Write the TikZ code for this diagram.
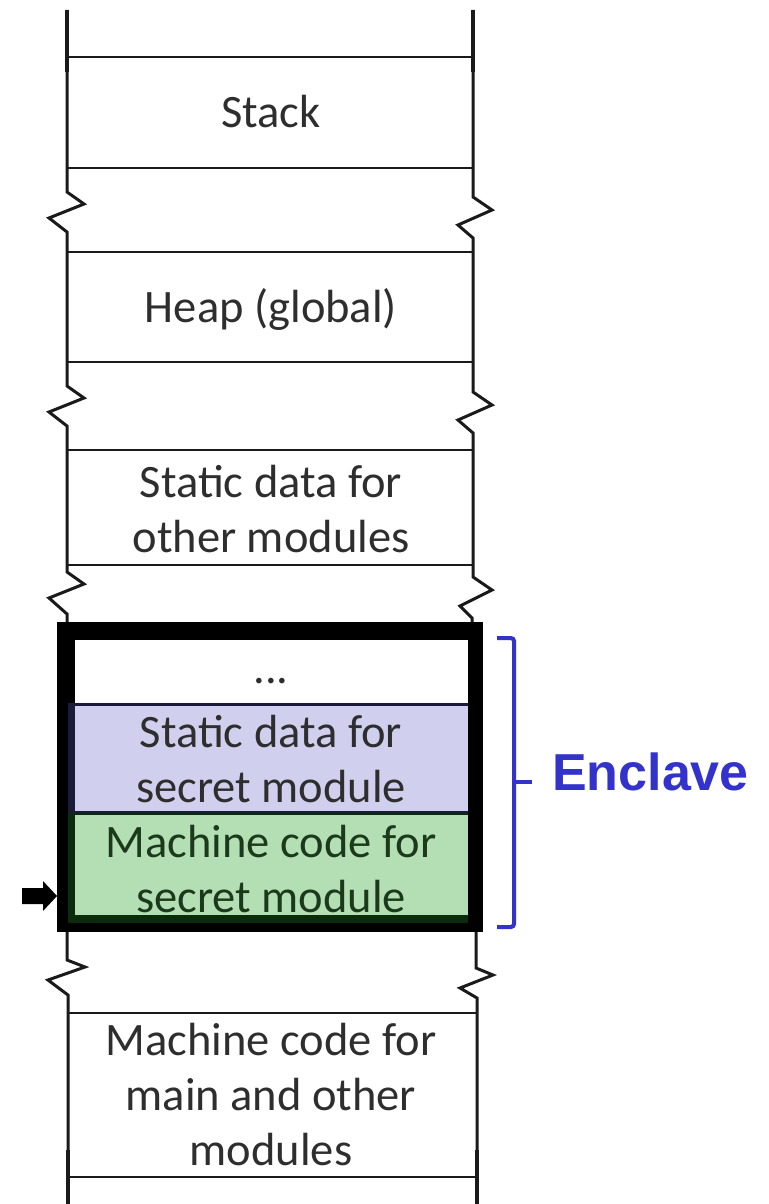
\documentclass[tikz,border=0pt]{standalone}
\usepackage{fontspec}
\newfontfamily\memfont{Carlito}
\newfontfamily\labelfont{Liberation Sans}
\definecolor{railgray}{HTML}{1A1A1A}
\definecolor{textgray}{HTML}{2E2E2E}
\definecolor{lavender}{HTML}{D0D0EE}
\definecolor{navyedge}{HTML}{1A1A3A}
\definecolor{mint}{HTML}{B4DEB4}
\definecolor{greenedge}{HTML}{0C2A0C}
\definecolor{greentext}{HTML}{1B3A1B}
\definecolor{enclaveblue}{HTML}{3333CC}
\begin{document}
\begin{tikzpicture}[x=1pt,y=-1pt,
  rail/.style={line width=3pt, draw=railgray, line join=miter},
  railend/.style={line width=4.5pt, draw=railgray},
  sep/.style={line width=2pt, draw=railgray},
  memtext/.style={font=\memfont\fontsize{46.5}{55}\selectfont, text=textgray,
                  align=center, inner sep=0pt, anchor=base},
  bracket/.style={line width=4pt, draw=enclaveblue, rounded corners=3pt}]
\useasboundingbox (0,0) rectangle (768,1204);

% side rails with break marks
\draw[rail] (67,10) -- (67,192) -- (84,204) -- (49,218) -- (67,232)
  -- (67,386) -- (84,398) -- (49,412) -- (67,426)
  -- (67,572) -- (84,584) -- (49,598) -- (67,614) -- (67,622);
\draw[rail] (67,932) -- (67,960) -- (85,967) -- (48,980) -- (68,995) -- (68,1204);
\draw[rail] (473,10) -- (473,197) -- (492,210) -- (458,225) -- (473,238)
  -- (473,392) -- (492,405) -- (458,420) -- (473,433)
  -- (473,577) -- (492,590) -- (460,606) -- (472,618) -- (472,622);
\draw[rail] (476,932) -- (476,968) -- (493,975) -- (460,988) -- (477,998) -- (477,1204);
\draw[railend] (67,10) -- (67,72) (473,10) -- (473,72)
  (68,1150) -- (68,1204) (477,1150) -- (477,1204);

% region boundaries
\foreach \y in {57,168,252,362,450,565}
  \draw[sep] (67,\y) -- (473,\y);
\foreach \y in {1013,1177}
  \draw[sep] (68,\y) -- (477,\y);

% enclave block
\fill[black] (57,622) rectangle (483,932);
\fill[white] (75,640) rectangle (468,703);
\fill[navyedge] (68,703) rectangle (468,813);
\fill[lavender] (75,706) rectangle (468,811);
\fill[greenedge] (68,813) rectangle (468,923);
\fill[mint] (75,815) rectangle (468,915);

% labels (multi-line labels sit on the baseline of their last line)
\node[memtext] (stack) at (271,128) {Stack};
\node[memtext] (heap) at (271,322) {Heap (global)};
\node[memtext] (staticother) at (271,552) {Static data for\\other modules};
\node[memtext] (gap) at (271,683) {...};
\node[memtext] (staticsecret) at (271,802) {Static data for\\secret module};
\node[memtext, text=greentext] (codesecret) at (271,912) {Machine code for\\secret module};
\node[memtext] (codemain) at (271,1165) {Machine code for\\main and other\\modules};

% entry point marker
\fill[black] (22,888) -- (43,888) -- (43,881) -- (57,896) -- (43,911) -- (43,904) -- (22,904) -- cycle;

% enclave bracket and label
\coordinate (btop) at (497,638);
\coordinate (bbot) at (497,927);
\coordinate (bmid) at (532,782);
\draw[bracket] (btop) -- (514,638) -- (514,927) -- (bbot);
\draw[bracket, rounded corners=0pt] (514,782) -- (bmid);
\node[font=\labelfont\bfseries\fontsize{52}{62}\selectfont, text=enclaveblue,
      inner sep=0pt, anchor=base west] (enclave) at (552,790) {Enclave};
\end{tikzpicture}
\end{document}
